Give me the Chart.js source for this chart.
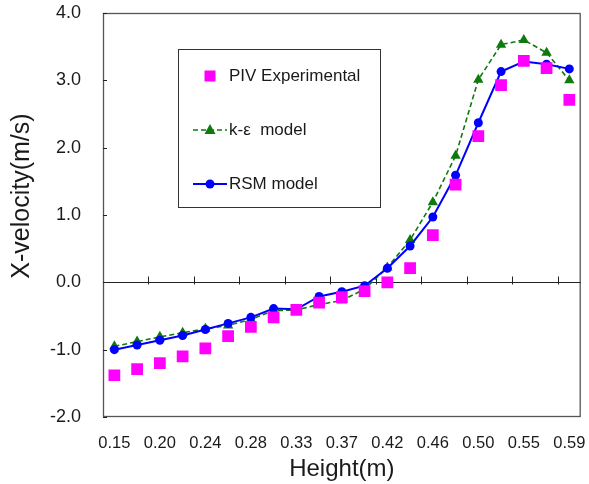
<!DOCTYPE html>
<html>
<head>
<meta charset="utf-8">
<script src="https://cdn.jsdelivr.net/npm/chart.js@4/dist/chart.umd.min.js"></script>
<style>
  html, body { margin: 0; padding: 0; background: #fff; }
  #wrap { width: 589px; height: 484px; position: relative; }
</style>
</head>
<body>
<div id="wrap"><canvas id="c" width="589" height="484"></canvas></div>
<script>
// ---- data ----
const categories = ['0.15','0.17','0.20','0.22','0.24','0.26','0.28','0.31','0.33','0.35','0.37',
                    '0.39','0.42','0.44','0.46','0.48','0.50','0.53','0.55','0.57','0.59'];
const pivExperimental = [-1.38,-1.29,-1.20,-1.10,-0.98,-0.80,-0.66,-0.52,-0.41,-0.30,-0.22,
                         -0.13,0.00,0.21,0.70,1.45,2.17,2.93,3.29,3.18,2.71];
const kEpsilonModel   = [-0.95,-0.88,-0.81,-0.75,-0.69,-0.64,-0.55,-0.42,-0.41,-0.33,-0.27,
                         -0.10,0.22,0.63,1.19,1.88,3.01,3.53,3.60,3.41,3.00];
const rsmModel        = [-1.00,-0.93,-0.86,-0.79,-0.70,-0.61,-0.52,-0.39,-0.40,-0.21,-0.14,
                         -0.05,0.21,0.54,0.97,1.59,2.37,3.13,3.28,3.24,3.17];
const seriesNames = ['PIV Experimental', 'k-ε  model', 'RSM model'];
const yTickValues = [-2, -1, 0, 1, 2, 3, 4];
const xTitle = 'Height(m)';
const yTitle = 'X-velocity(m/s)';

const FONT = "'Liberation Sans', Arial, Helvetica, sans-serif";
const TEXT = '#1a1a1a';
const PINK = '#ff00ff', GREEN = '#0e7a0e', BLUE = '#0000ff';

function marker(ctx, style, x, y, color) {
  ctx.save();
  ctx.fillStyle = color;
  ctx.beginPath();
  if (style === 'rect') {
    ctx.rect(x - 5.5, y - 5.5, 11, 11);
  } else if (style === 'triangle') {
    ctx.moveTo(x, y - 6);
    ctx.lineTo(x + 5.5, y + 4);
    ctx.lineTo(x - 5.5, y + 4);
    ctx.closePath();
  } else {
    ctx.arc(x, y, 4.5, 0, Math.PI * 2);
  }
  ctx.fill();
  ctx.restore();
}

const axesPlugin = {
  id: 'axesDeco',
  beforeDatasetsDraw(chart) {
    const {ctx, chartArea: a, scales: {x, y}} = chart;
    ctx.save();
    // plot border
    ctx.strokeStyle = '#555';
    ctx.lineWidth = 1.3;
    ctx.strokeRect(a.left + 0.5, a.top + 0.5, a.right - a.left - 1, a.bottom - a.top - 1);
    // zero line
    const y0 = Math.round(y.getPixelForValue(0)) + 0.5;
    ctx.strokeStyle = '#222';
    ctx.lineWidth = 1;
    ctx.beginPath();
    ctx.moveTo(a.left, y0);
    ctx.lineTo(a.right, y0);
    // category tick marks every 2 categories on the zero line
    for (let k = 2; k < categories.length; k += 2) {
      const px = Math.round((x.getPixelForValue(k - 1) + x.getPixelForValue(k)) / 2) + 0.5;
      ctx.moveTo(px, y0 - 6);
      ctx.lineTo(px, y0 + 2);
    }
    // y tick marks (inside)
    yTickValues.forEach(v => {
      const py = Math.round(y.getPixelForValue(v)) + 0.5;
      ctx.moveTo(a.left, py);
      ctx.lineTo(a.left + 4, py);
    });
    ctx.stroke();
    // y axis title (placed as in the reference, slightly above centre)
    ctx.translate(22, a.top + 183);
    ctx.rotate(-Math.PI / 2);
    ctx.fillStyle = TEXT;
    ctx.font = '25px ' + FONT;
    ctx.textAlign = 'center';
    ctx.textBaseline = 'middle';
    ctx.fillText(yTitle, 0, 0);
    ctx.restore();
  }
};

const legendPlugin = {
  id: 'boxLegend',
  afterDraw(chart) {
    const {ctx, chartArea: a} = chart;
    const bx = a.left + 75, by = a.top + 36, bw = 202, bh = 158;
    ctx.save();
    ctx.fillStyle = '#fff';
    ctx.fillRect(bx, by, bw, bh);
    ctx.strokeStyle = '#333';
    ctx.lineWidth = 1;
    ctx.strokeRect(bx + 0.5, by + 0.5, bw, bh);
    const rowsY = [27, 81, 135];
    chart.data.datasets.forEach((ds, i) => {
      const cy = by + rowsY[i];
      const mx = bx + 32;
      if (ds.showLine !== false) {
        ctx.save();
        ctx.strokeStyle = ds.borderColor;
        ctx.lineWidth = ds.borderWidth;
        ctx.setLineDash(ds.borderDash || []);
        ctx.beginPath();
        ctx.moveTo(bx + 15, cy);
        ctx.lineTo(bx + 49, cy);
        ctx.stroke();
        ctx.restore();
      }
      marker(ctx, ds.pointStyle, mx, cy, ds.pointBackgroundColor);
      ctx.fillStyle = TEXT;
      ctx.font = '17px ' + FONT;
      ctx.textBaseline = 'middle';
      ctx.textAlign = 'left';
      ctx.fillText(ds.label, bx + 51, cy);
    });
    ctx.restore();
  }
};

new Chart(document.getElementById('c'), {
  type: 'line',
  data: {
    labels: categories,
    datasets: [
      {
        label: seriesNames[0], data: pivExperimental, order: 0,
        showLine: false, pointStyle: 'rect', pointRadius: 8.3, pointHoverRadius: 8.3,
        pointBackgroundColor: PINK, pointBorderColor: PINK, pointBorderWidth: 0,
        borderColor: PINK, backgroundColor: PINK
      },
      {
        label: seriesNames[1], data: kEpsilonModel, order: 2,
        borderColor: GREEN, borderWidth: 1.6, borderDash: [5, 3], tension: 0,
        pointStyle: 'triangle', pointRadius: 6, pointHoverRadius: 6,
        pointBackgroundColor: GREEN, pointBorderColor: GREEN, pointBorderWidth: 0,
        backgroundColor: GREEN, fill: false
      },
      {
        label: seriesNames[2], data: rsmModel, order: 1,
        borderColor: BLUE, borderWidth: 2, tension: 0,
        pointStyle: 'circle', pointRadius: 4.5, pointHoverRadius: 4.5,
        pointBackgroundColor: BLUE, pointBorderColor: BLUE, pointBorderWidth: 0,
        backgroundColor: BLUE, fill: false
      }
    ]
  },
  options: {
    responsive: false,
    animation: false,
    events: [],
    layout: { padding: { top: 13, right: 4, left: 0, bottom: 0 } },
    plugins: { legend: { display: false }, tooltip: { enabled: false }, title: { display: false } },
    scales: {
      x: {
        type: 'category',
        offset: true,
        grid: { display: false, drawTicks: false, offset: true },
        border: { display: false },
        ticks: {
          autoSkip: false, maxRotation: 0, minRotation: 0, padding: 17,
          color: TEXT, font: { family: FONT, size: 16.5 },
          callback: (v, i) => (i % 2 === 0 ? categories[i] : '')
        },
        title: { display: true, text: xTitle, color: TEXT, font: { family: FONT, size: 24 }, padding: { top: 0, bottom: 0 } },
        afterFit: s => { s.height = 67; s.paddingLeft = 0; s.paddingRight = 0; }
      },
      y: {
        min: -2, max: 4,
        afterBuildTicks: s => { s.ticks = yTickValues.map(v => ({ value: v })); },
        grid: { display: false, drawTicks: false },
        border: { display: false },
        ticks: {
          padding: 22, color: TEXT, font: { family: FONT, size: 18 },
          callback: v => Number(v).toFixed(1)
        },
        title: { display: false },
        afterFit: s => { s.width = 103; s.paddingTop = 0; s.paddingBottom = 0; }
      }
    }
  },
  plugins: [axesPlugin, legendPlugin]
});
</script>
</body>
</html>
